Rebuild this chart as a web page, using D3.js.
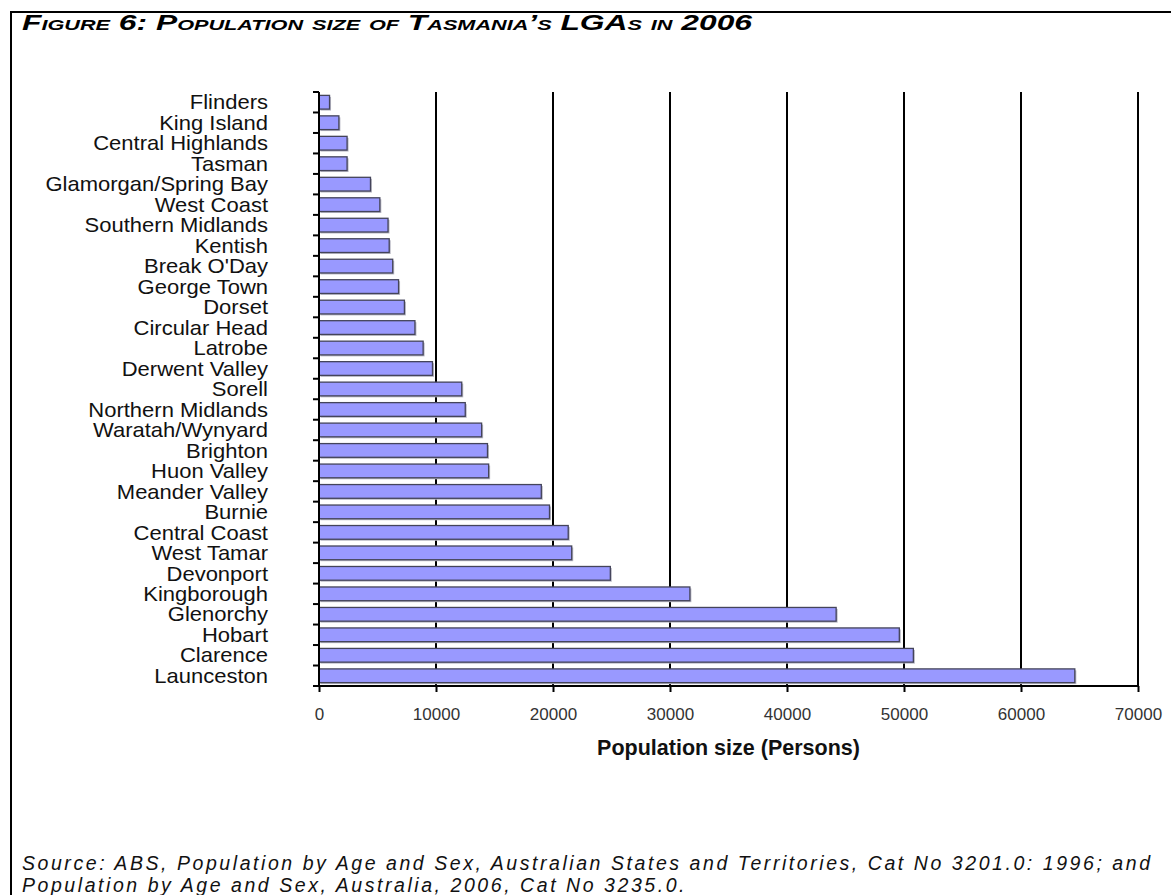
<!DOCTYPE html>
<html><head><meta charset="utf-8">
<script src="https://cdn.jsdelivr.net/npm/d3@7"></script>
<style>
html,body{margin:0;padding:0;background:#fff;}
svg{display:block;}
</style></head>
<body>
<svg id="chart" width="1171" height="895"></svg>
<script>
const categories = ["Flinders","King Island","Central Highlands","Tasman","Glamorgan/Spring Bay","West Coast","Southern Midlands","Kentish","Break O'Day","George Town","Dorset","Circular Head","Latrobe","Derwent Valley","Sorell","Northern Midlands","Waratah/Wynyard","Brighton","Huon Valley","Meander Valley","Burnie","Central Coast","West Tamar","Devonport","Kingborough","Glenorchy","Hobart","Clarence","Launceston"];
const population = [900,1700,2400,2400,4400,5200,5900,6000,6300,6800,7300,8200,8900,9700,12200,12500,13900,14400,14500,19000,19700,21300,21600,24900,31700,44200,49600,50800,64600];
const xTicks = [0,10000,20000,30000,40000,50000,60000,70000];
const titleText = "Figure 6: Population size of Tasmania\u2019s LGAs in 2006";
const xAxisTitle = "Population size (Persons)";
const sourceLines = ["Source: ABS, Population by Age and Sex, Australian States and Territories, Cat No 3201.0: 1996; and","Population by Age and Sex, Australia, 2006, Cat No 3235.0."];

const FONT = "Liberation Sans, Arial, sans-serif";
const svg = d3.select("#chart");
const L = 319, R = 1138, T = 92, B = 686;

// frame
svg.append("line").attr("x1",10).attr("x2",1171).attr("y1",12).attr("y2",12).attr("stroke","#000").attr("stroke-width",2);
svg.append("line").attr("x1",11).attr("x2",11).attr("y1",11).attr("y2",895).attr("stroke","#000").attr("stroke-width",2);

// title
svg.append("text").attr("x",22).attr("y",30)
  .attr("font-family",FONT).attr("font-size",22)
  .attr("font-weight","bold").attr("font-style","italic")
  .style("font-variant","small-caps").attr("fill","#000")
  .attr("textLength",730).attr("lengthAdjust","spacingAndGlyphs")
  .text(titleText);

const x = d3.scaleLinear().domain([0,70000]).range([L,R]);
const y = d3.scaleBand().domain(categories).range([T,B]).paddingInner(0.33).paddingOuter(0.165);

// gridlines
svg.append("g").selectAll("line").data(xTicks.slice(1)).join("line")
  .attr("x1",d=>x(d)).attr("x2",d=>x(d)).attr("y1",T).attr("y2",B)
  .attr("stroke","#000").attr("stroke-width",2);

// bar shadows
svg.append("g").selectAll("rect").data(categories).join("rect")
  .attr("x",x(0)+1.5).attr("y",d=>y(d)+1.5)
  .attr("width",(d,i)=>x(population[i])-x(0)).attr("height",y.bandwidth())
  .attr("fill","#b8b8c4");
// bars
svg.append("g").selectAll("rect").data(categories).join("rect")
  .attr("x",x(0)).attr("y",d=>y(d))
  .attr("width",(d,i)=>x(population[i])-x(0)).attr("height",y.bandwidth())
  .attr("fill","#9999ff").attr("stroke","#44445a").attr("stroke-width",1.3);

// x axis
const xAxis = d3.axisBottom(x).tickValues(xTicks).tickFormat(d3.format("d")).tickSize(6).tickPadding(16);
const gx = svg.append("g").attr("transform",`translate(0,${B})`).call(xAxis);
gx.select(".domain").attr("stroke","#000").attr("stroke-width",2).attr("d",`M${L-6},0H${R}`);
gx.selectAll(".tick line").attr("stroke","#000").attr("stroke-width",2);
gx.selectAll(".tick text").attr("font-family",FONT).attr("font-size",17).attr("fill","#333");

// y axis line and boundary ticks
svg.append("line").attr("x1",L).attr("x2",L).attr("y1",T).attr("y2",B).attr("stroke","#000").attr("stroke-width",2);
const bounds = d3.range(categories.length+1).map(i=>T+i*y.step());
svg.append("g").selectAll("line").data(bounds).join("line")
  .attr("x1",L-6).attr("x2",L).attr("y1",d=>d).attr("y2",d=>d).attr("stroke","#000").attr("stroke-width",2);

// y labels
svg.append("g").attr("transform","translate(268,0) scale(1.1,1)")
  .selectAll("text").data(categories).join("text")
  .attr("x",0).attr("y",d=>y(d)+y.bandwidth()/2).attr("dy","0.36em")
  .attr("text-anchor","end").attr("font-family",FONT)
  .attr("font-size",20).attr("fill","#111").text(d=>d);

// axis title
svg.append("text").attr("x",(L+R)/2).attr("y",755).attr("text-anchor","middle")
  .attr("font-family",FONT).attr("font-size",21.5).attr("font-weight","bold")
  .attr("fill","#111").text(xAxisTitle);

// source (same loose character spacing on both lines, first line filling the width)
const src = svg.append("g").selectAll("text").data(sourceLines).join("text")
  .attr("x",22).attr("y",(d,i)=>870+i*22)
  .attr("font-family",FONT).attr("font-size",19.5).attr("font-style","italic")
  .attr("fill","#111").text(d=>d);
const first = src.filter((d,i)=>i===0).node();
const nat = first.getComputedTextLength();
const ls = (1128 - nat) / (sourceLines[0].length - 1);
src.attr("letter-spacing", ls);
</script>
</body></html>
